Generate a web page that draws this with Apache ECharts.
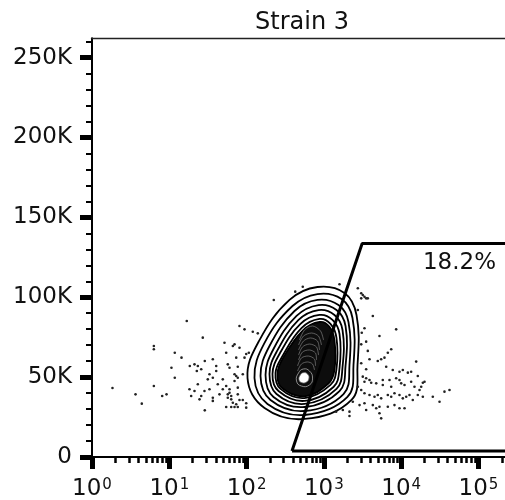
<!DOCTYPE html>
<html><head><meta charset="utf-8">
<script src="https://cdn.jsdelivr.net/npm/echarts@6/dist/echarts.min.js"></script>
<style>html,body{margin:0;padding:0;background:#fff}#c{width:505px;height:500px}</style>
</head><body><div id="c"></div>
<script>
// ---- text ----
const chartTitle = 'Strain 3';
const gateLabel = '18.2%';
// ---- axes (x in log10 units, y in thousands) ----
const xMax = 5.343;       // visible right edge of the plot (log10 units)
const yMax = 262.144;     // 262144 / 1000
const xMajorTicks = [0, 1, 2, 3, 4, 5];
const xMinorTicks = [];
for (let n = 0; n <= 5; n++) for (let k = 2; k <= 9; k++) { const v = n + Math.log10(k); if (v < xMax) xMinorTicks.push(v); }
const yMajorTicks = [0, 50, 100, 150, 200, 250];
const yMinorTicks = [10,20,30,40,60,70,80,90,110,120,130,140,160,170,180,190,210,220,230,240,260];
// ---- gate polygon ----
const gateX = [2.587, 3.495, 5.4186, 5.4186, 2.587];
const gateY = [3.75, 133.7, 133.7, 3.75, 3.75];
const gateLabelPos = [4.754, 121.4];
// ---- contour rings (outer to inner) ----
const contourRings = [
 [[2.917,106.4],[3.266,102.7],[3.422,88.9],[3.435,57.6],[3.357,35.7],[2.749,23.8],[2.232,30.7],[2.012,49.4],[2.167,73.2],[2.555,98.3]],
 [[2.917,102.0],[3.228,98.9],[3.370,87.0],[3.383,57.6],[3.305,37.6],[2.749,26.3],[2.270,33.2],[2.102,49.4],[2.232,71.4],[2.594,94.5]],
 [[2.917,98.3],[3.189,95.1],[3.318,84.5],[3.331,57.6],[3.254,39.4],[2.749,28.8],[2.309,35.7],[2.180,50.7],[2.296,69.5],[2.620,91.4]],
 [[2.930,95.1],[3.163,92.0],[3.280,82.0],[3.280,57.0],[3.202,41.3],[2.749,31.3],[2.348,37.6],[2.245,51.3],[2.348,67.6],[2.646,88.3]],
 [[2.930,92.0],[3.137,88.9],[3.241,79.5],[3.241,56.3],[3.163,42.6],[2.749,33.2],[2.387,39.4],[2.296,52.0],[2.387,65.7],[2.672,85.8]],
 [[2.943,88.9],[3.111,85.8],[3.202,77.0],[3.202,55.7],[3.124,43.8],[2.749,35.1],[2.413,41.3],[2.335,52.0],[2.426,64.5],[2.697,83.3]],
 [[2.943,86.4],[3.085,83.3],[3.163,74.5],[3.163,55.1],[3.085,45.1],[2.749,36.9],[2.439,42.6],[2.374,52.6],[2.465,63.2],[2.710,80.7]]
];
const denseCore = [[2.943,84.5],[3.072,81.5],[3.137,73.0],[3.137,54.5],[3.059,46.0],[2.749,38.0],[2.452,43.5],[2.400,52.6],[2.478,62.5],[2.723,79.0]];
// upper contour bands inside the dense core (open arcs)
const coreArcs = [
 [[2.684,73.2],[2.749,79.5],[2.853,82.0],[2.956,78.9],[2.995,73.2]],
 [[2.672,70.1],[2.736,75.7],[2.840,77.6],[2.930,75.7],[2.969,70.1]],
 [[2.672,67.0],[2.736,72.6],[2.827,74.5],[2.917,72.6],[2.943,67.0]],
 [[2.672,63.8],[2.723,68.9],[2.814,70.7],[2.904,68.9],[2.930,63.8]],
 [[2.672,60.7],[2.723,65.7],[2.814,67.0],[2.891,65.1],[2.904,60.7]],
 [[2.659,57.0],[2.710,62.0],[2.801,63.2],[2.878,61.3],[2.891,57.0]],
 [[2.659,53.8],[2.710,58.2],[2.788,59.5],[2.853,58.2],[2.878,54.5]]
];
const peakRing = [[2.736,55.1],[2.814,53.8],[2.853,49.4],[2.814,45.1],[2.710,44.4],[2.646,47.6],[2.672,52.6]];
const peak = [[2.736,52.8],[2.788,51.9],[2.807,49.4],[2.775,46.9],[2.716,46.5],[2.678,48.4],[2.697,51.5]];
// ---- outlier events ----
const dotsLeft = [
[1.226,85.1],[1.908,82.0],[1.973,79.9],[1.433,74.7],[0.800,69.5],[0.800,67.4],[1.714,71.5],[1.844,70.5],[1.822,69.5],[1.908,68.4],
[1.071,65.3],[1.736,65.3],[1.995,64.5],[2.029,65.3],[1.158,62.2],[1.866,62.2],[1.973,62.2],[1.459,60.1],[1.563,61.2],[1.326,58.0],
[1.369,57.0],[1.413,54.9],[1.356,53.8],[1.265,57.0],[1.028,55.9],[1.607,57.0],[1.607,53.8],[1.757,58.0],[1.779,55.9],[1.886,56.5],
[1.520,51.8],[1.563,49.6],[1.498,48.6],[1.692,48.6],[1.844,51.8],[1.866,50.7],[1.886,49.6],[1.844,47.6],[1.951,51.8],[1.071,49.6],
[1.369,45.5],[1.627,45.5],[1.692,42.4],[1.736,44.4],[1.886,43.4],[0.800,44.4],[1.261,42.4],[1.326,41.3],[1.455,41.3],[1.520,42.4],
[1.779,42.4],[1.779,40.2],[1.757,39.2],[1.801,38.2],[1.886,39.2],[0.563,39.2],[0.908,38.2],[0.964,39.2],[1.283,38.2],[1.413,38.2],
[1.391,36.1],[1.563,37.1],[1.563,35.1],[1.649,39.2],[1.801,36.1],[1.757,37.1],[1.908,35.7],[1.951,35.7],[1.822,34.0],[1.866,33.0],
[1.995,33.6],[1.995,30.9],[0.644,33.4],[1.736,31.3],[1.801,31.3],[1.844,31.3],[1.886,31.3],[1.459,29.2],[0.265,43.2]
];
const dotsRight = [
[3.439,105.6],[3.483,102.5],[3.503,101.4],[3.525,100.3],[3.547,99.3],[3.483,99.3],[3.568,99.3],[3.439,92.0],[3.633,88.3],[3.935,79.9],
[3.525,80.6],[3.719,75.7],[3.490,77.8],[3.547,72.2],[3.483,70.5],[3.871,67.4],[3.827,65.3],[3.568,66.4],[3.590,61.2],[3.697,60.1],
[3.741,61.2],[3.784,62.2],[4.194,59.7],[3.483,58.7],[3.547,54.9],[3.806,56.5],[3.891,54.5],[3.978,53.4],[4.021,54.5],[4.086,52.8],
[4.129,53.4],[4.215,50.7],[4.280,46.5],[4.302,47.1],[3.503,50.3],[3.547,49.3],[3.590,48.2],[3.525,47.1],[3.612,46.5],[3.677,46.1],
[3.762,48.2],[3.762,45.1],[3.849,48.2],[3.871,44.0],[3.935,49.3],[3.978,48.2],[4.000,46.1],[4.043,45.1],[4.129,47.1],[4.172,44.0],
[4.237,41.9],[4.259,44.0],[3.439,44.0],[3.483,41.9],[3.525,39.9],[3.590,38.8],[3.655,37.7],[3.697,38.8],[3.741,36.7],[3.827,38.8],
[3.871,37.7],[3.913,39.9],[3.978,38.8],[4.021,36.7],[4.065,37.7],[4.107,38.8],[4.150,35.7],[4.215,38.8],[4.280,37.7],[3.374,34.6],
[3.461,32.5],[3.525,33.6],[3.633,32.5],[3.677,30.5],[3.719,31.5],[3.827,31.5],[3.913,32.5],[3.978,30.5],[4.043,30.5],[4.409,37.7],
[4.496,34.6],[4.560,40.9],[4.625,41.9],[3.245,29.4],[3.159,28.4],[3.331,28.4],[3.547,29.4],[3.719,27.4],[3.741,24.2],[3.331,25.7]
];
const dotsTop = [[2.629,103.5],[2.727,106.6],[3.202,108.1],[2.352,98.3],[2.080,78.4],[2.145,77.4]];

const FONT = 'DejaVu Sans';
const TXT = '#111';

function shapeSeries(rings, type, style, smooth) {
  return {
    type: 'custom', clip: true, silent: true,
    data: rings.map(r => r[0]),
    renderItem: (params, api) => {
      const pts = rings[params.dataIndex].map(p => api.coord(p));
      return { type: type, shape: { points: pts, smooth: smooth }, style: style };
    }
  };
}

const chart = echarts.init(document.getElementById('c'), null, { renderer: 'canvas' });
chart.setOption({
  animation: false,
  backgroundColor: '#fff',
  title: { text: chartTitle, left: 297, top: 6, textAlign: 'center',
    textStyle: { fontFamily: FONT, fontSize: 24, fontWeight: 'normal', color: TXT } },
  grid: { left: 92, right: 0, top: 38.2, bottom: 43, containLabel: false, outerBoundsMode: 'none' },
  xAxis: [
    { type: 'value', min: 0, max: xMax, position: 'bottom',
      axisLine: { show: true, onZero: false, lineStyle: { color: '#000', width: 2 } },
      axisTick: { show: true, customValues: xMajorTicks, length: 12, lineStyle: { color: '#000', width: 5 } },
      axisLabel: { customValues: xMajorTicks, margin: 21, formatter: v => '{b|10}{s|' + Math.round(v) + '}',
        rich: { b: { fontFamily: FONT, fontSize: 23, color: TXT }, s: { fontFamily: FONT, fontSize: 15, color: TXT, verticalAlign: 'top', padding: [0, 0, 0, 1] } } },
      splitLine: { show: false } },
    { type: 'value', min: 0, max: xMax, position: 'bottom',
      axisLine: { show: false },
      axisTick: { show: true, customValues: xMinorTicks, length: 6, lineStyle: { color: '#000', width: 2.5 } },
      axisLabel: { show: false }, splitLine: { show: false } },
    { type: 'value', min: 0, max: xMax, position: 'top',
      axisLine: { show: true, onZero: false, lineStyle: { color: '#222', width: 1.3 } },
      axisTick: { show: false }, axisLabel: { show: false }, splitLine: { show: false } }
  ],
  yAxis: [
    { type: 'value', min: 0, max: yMax, position: 'left',
      axisLine: { show: true, onZero: false, lineStyle: { color: '#000', width: 2 } },
      axisTick: { show: true, customValues: yMajorTicks, length: 12, lineStyle: { color: '#000', width: 5 } },
      axisLabel: { customValues: yMajorTicks, margin: 20, formatter: v => v === 0 ? '0' : Math.round(v) + 'K',
        fontFamily: FONT, fontSize: 23, color: TXT },
      splitLine: { show: false } },
    { type: 'value', min: 0, max: yMax, position: 'left',
      axisLine: { show: false },
      axisTick: { show: true, customValues: yMinorTicks, length: 6, lineStyle: { color: '#000', width: 2 } },
      axisLabel: { show: false }, splitLine: { show: false } }
  ],
  series: [
    { type: 'scatter', symbol: 'circle', symbolSize: 2.6, itemStyle: { color: '#222', opacity: 1 }, silent: true,
      data: dotsLeft.concat(dotsRight, dotsTop) },
    shapeSeries(contourRings, 'polygon', { fill: '#fff', stroke: '#000', lineWidth: 1.8 }, 0.4),
    shapeSeries([denseCore], 'polygon', { fill: '#0d0d0d', stroke: '#000', lineWidth: 1.8 }, 0.4),
    shapeSeries(coreArcs, 'polyline', { fill: 'none', stroke: '#8a8a8a', lineWidth: 0.8, opacity: 0.8 }, 0.3),
    shapeSeries([peakRing], 'polygon', { fill: 'none', stroke: '#aaa', lineWidth: 0.8 }, 0.5),
    shapeSeries([peak], 'polygon', { fill: '#fff', stroke: '#666', lineWidth: 0.8 }, 0.5),
    { type: 'line', symbol: 'none', silent: true, clip: true,
      lineStyle: { color: '#000', width: 3 },
      data: gateX.map((x, i) => [x, gateY[i]]) },
    { type: 'custom', silent: true, clip: false, data: [gateLabelPos],
      renderItem: (params, api) => {
        const p = api.coord(gateLabelPos);
        return { type: 'text', x: p[0], y: p[1],
          style: { text: gateLabel, fontFamily: FONT, fontSize: 23, fill: TXT, align: 'center', verticalAlign: 'middle' } };
      } }
  ]
});
</script>
</body></html>
